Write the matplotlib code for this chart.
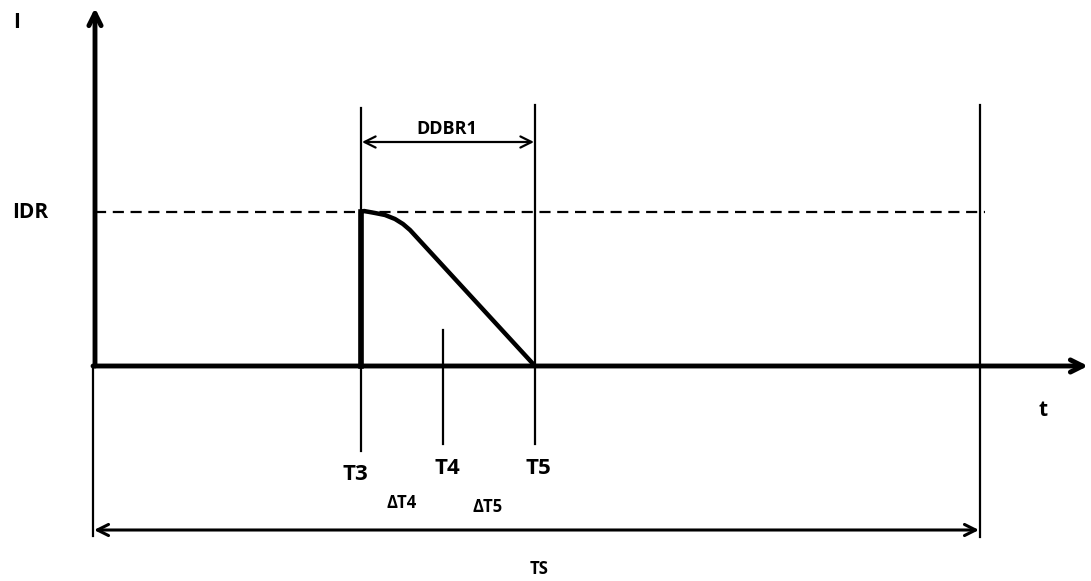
import matplotlib
matplotlib.use("Agg")
import matplotlib.pyplot as plt

plt.rcParams['font.family'] = ['Open Sans', 'DejaVu Sans']

# diagram coordinates (pixel-like units, y grows downwards)
origin = (95, 366)
x_axis_end = 1088
y_axis_top = 8
idr_level = 212
dash_end = 985

# event times along the time axis
t_events = {'T3': 361, 'T4': 443, 'T5': 535, 'end': 980}
marker_top = {'T3': 108, 'T4': 330, 'T5': 105, 'end': 105}
marker_bottom = {'T3': 451, 'T4': 444, 'T5': 444, 'end': 537}

# current pulse: jump at T3, rounded top, linear decay to zero at T5
pulse_t = [361, 361, 364, 375, 385, 395, 403, 410, 535]
pulse_i = [366, 212, 211, 213, 215, 219, 224, 230, 366]

ddbr_y = 142
ts_y = 530

labels = [
    ('I', 17, 23, 15),
    ('IDR', 30, 213, 15),
    ('t', 1043, 411, 15),
    ('T3', 355, 474, 16),
    ('T4', 447, 468, 16),
    ('T5', 538, 468, 16),
    ('ΔT4', 402, 503, 12),
    ('ΔT5', 488, 507, 12),
    ('DDBR1', 447, 129, 13),
    ('TS', 539, 569, 12),
]

fig = plt.figure(figsize=(10.91, 5.81), dpi=100)
ax = fig.add_axes([0, 0, 1, 1])
ax.set_xlim(0, 1091)
ax.set_ylim(581, 0)
ax.axis('off')

# axes with arrows
ax.annotate('', xy=(x_axis_end, origin[1]), xytext=(origin[0] - 2, origin[1]),
            arrowprops=dict(arrowstyle='->', lw=3.5, color='black',
                            mutation_scale=22, shrinkA=0, shrinkB=0))
ax.annotate('', xy=(origin[0], y_axis_top), xytext=(origin[0], origin[1]),
            arrowprops=dict(arrowstyle='->', lw=3.5, color='black',
                            mutation_scale=22, shrinkA=0, shrinkB=0))

# IDR dashed level
ax.plot([origin[0], dash_end], [idr_level, idr_level], color='black',
        lw=1.6, dashes=(5, 3))

# event markers
for key, x in t_events.items():
    ax.plot([x, x], [marker_top[key], marker_bottom[key]], color='black', lw=1.6)
ax.plot([origin[0] - 2, origin[0] - 2], [origin[1], ts_y + 6], color='black', lw=1.6)

# current pulse
ax.plot(pulse_t, pulse_i, color='black', lw=3.2, solid_joinstyle='round')
ax.plot([pulse_t[0], pulse_t[1]], [pulse_i[0], pulse_i[1]], color='black', lw=4)

# DDBR1 and TS spans
ax.annotate('', xy=(t_events['T3'] + 1, ddbr_y), xytext=(t_events['T5'] - 1, ddbr_y),
            arrowprops=dict(arrowstyle='<->', lw=1.6, color='black',
                            mutation_scale=20, shrinkA=0, shrinkB=0))
ax.annotate('', xy=(origin[0] - 1, ts_y), xytext=(t_events['end'] - 1, ts_y),
            arrowprops=dict(arrowstyle='<->', lw=2.2, color='black',
                            mutation_scale=20, shrinkA=0, shrinkB=0))

for text, x, y, size in labels:
    ax.text(x, y, text, fontsize=size, fontweight='bold', ha='center', va='center')

fig.savefig('out.png', dpi=100)
